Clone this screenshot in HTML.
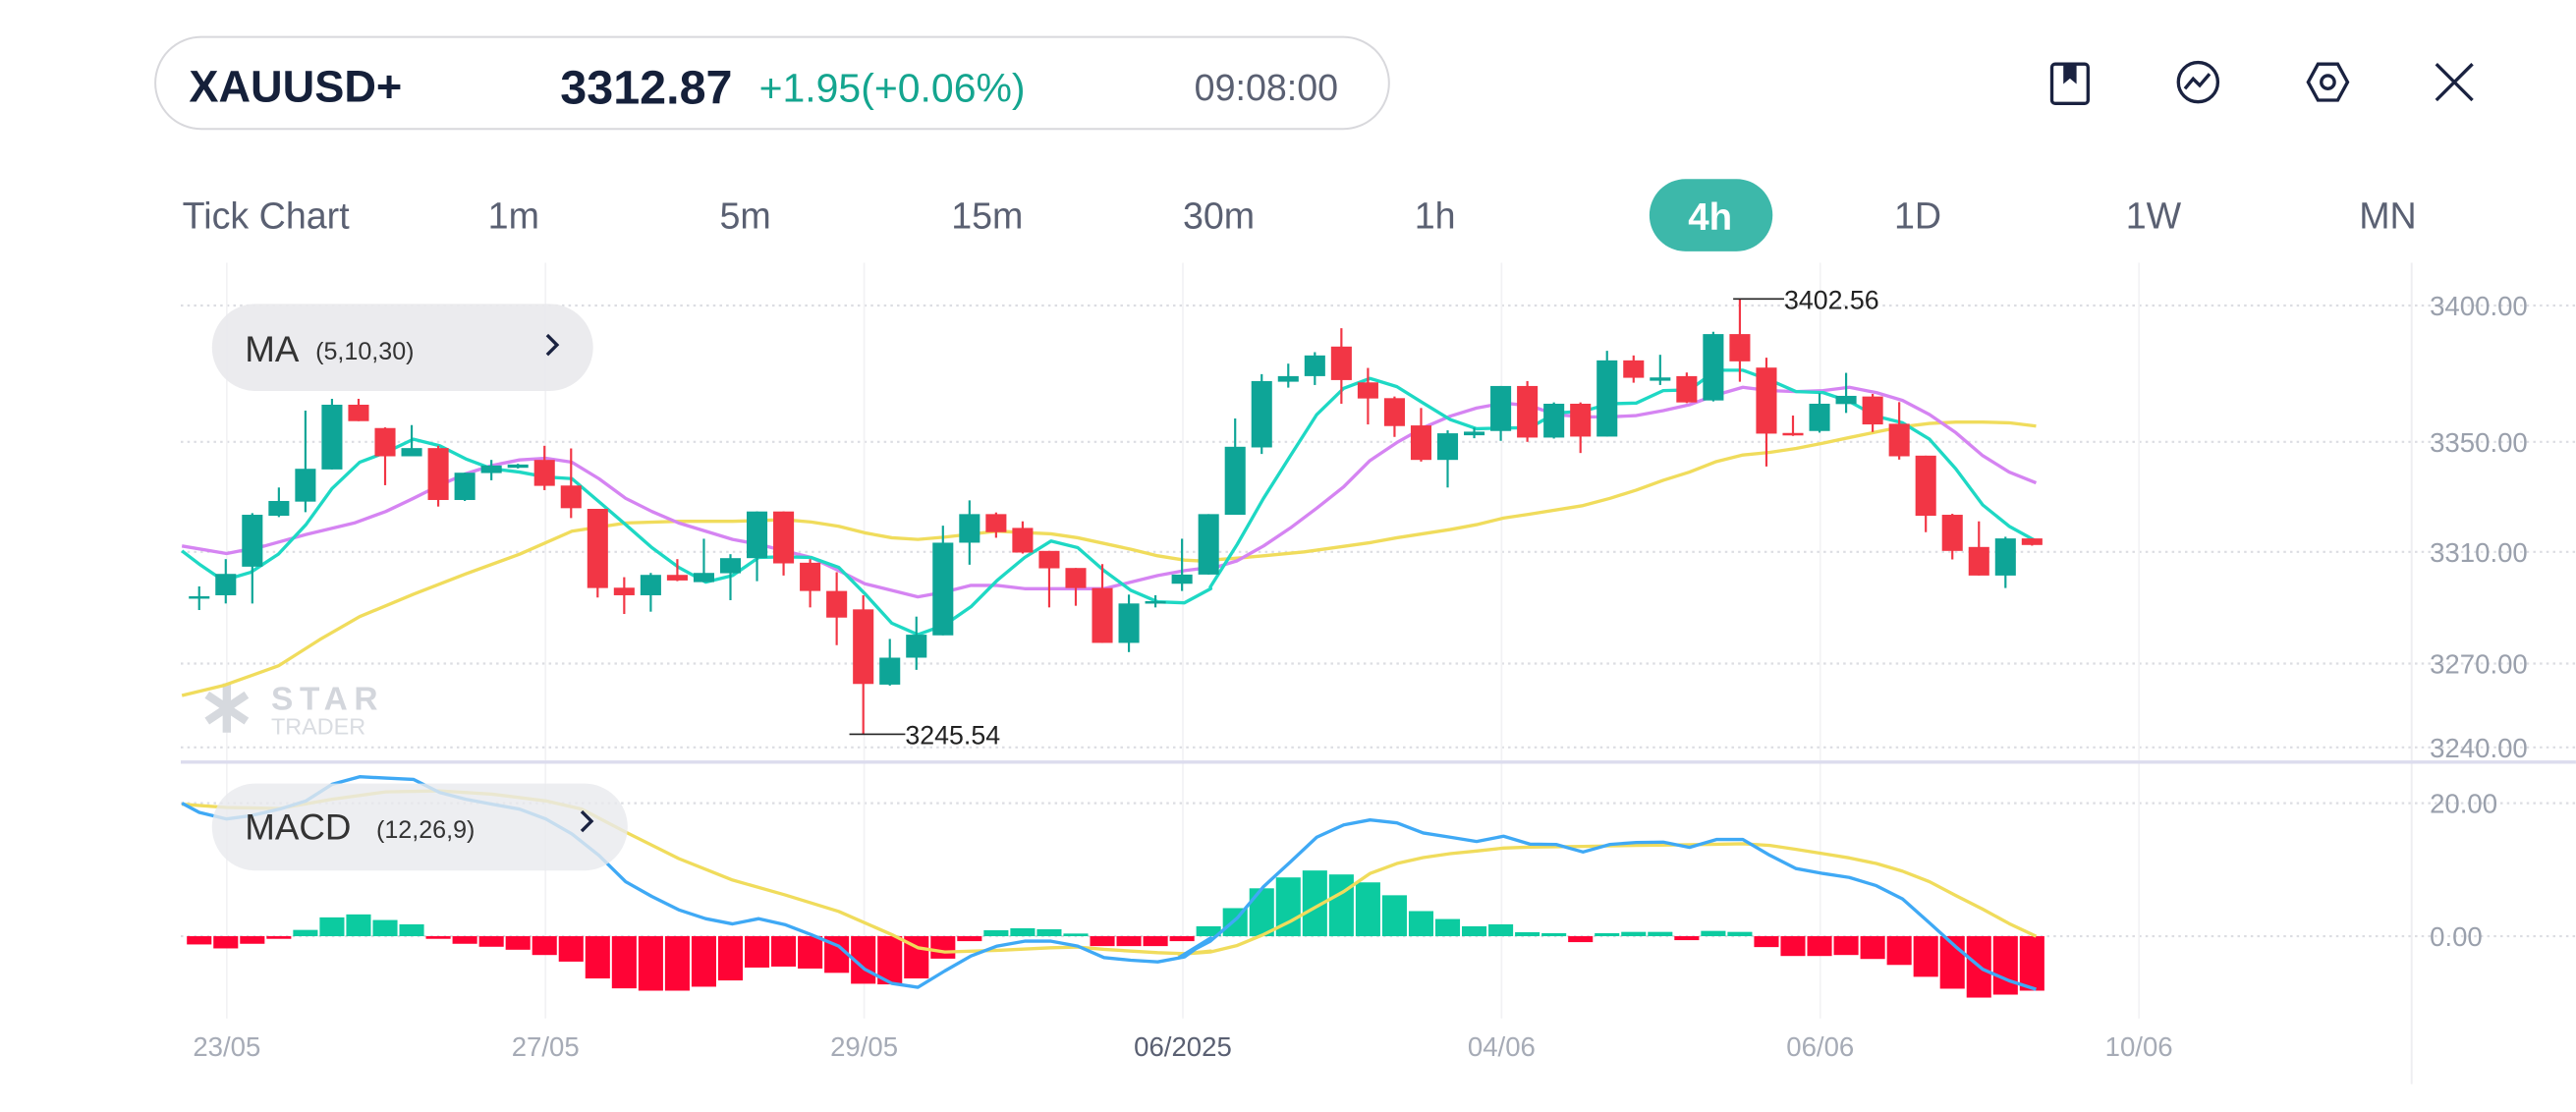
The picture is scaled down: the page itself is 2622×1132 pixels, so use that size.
<!DOCTYPE html>
<html><head><meta charset="utf-8"><style>
html,body{margin:0;padding:0;background:#fff;}
svg{display:block;font-family:"Liberation Sans",sans-serif;}
</style></head><body>
<svg id="s" width="2622" height="1132" viewBox="0 0 1568 677" xmlns="http://www.w3.org/2000/svg">
<rect width="1568" height="677" fill="#fff"/>
<rect x="94.5" y="22.5" width="751" height="56" rx="28" fill="#fff" stroke="#d8d8dc" stroke-width="1.2"/>
<text x="115" y="62" font-size="27" font-weight="bold" fill="#15203a">XAUUSD+</text>
<text x="341" y="63" font-size="29" font-weight="bold" fill="#15203a">3312.87</text>
<text x="462" y="62" font-size="24.5" fill="#14a58f">+1.95(+0.06%)</text>
<text x="727" y="61" font-size="22.5" fill="#5a6072">09:08:00</text>
<g fill="none" stroke="#1a2240" stroke-width="2">
<rect x="1249" y="39" width="22" height="24" rx="2"/><path d="M1257 39 v10 l3-2.5 l3 2.5 v-10" fill="#1a2240"/>
<circle cx="1338" cy="50" r="12"/><path d="M1330 54 l5-6 l4 4 l6-7"/>
<path d="M1411 39 h12 l6 11 l-6 11 h-12 l-6-11z"/><circle cx="1417" cy="50" r="4"/>
<path d="M1483 39 l22 22 M1505 39 l-22 22"/>
</g>
<g font-size="22.5" fill="#5a6072">
<text x="111" y="139">Tick Chart</text>
<text x="297" y="139">1m</text>
<text x="438" y="139">5m</text>
<text x="579" y="139">15m</text>
<text x="720" y="139">30m</text>
<text x="861" y="139">1h</text>
<text x="1153" y="139">1D</text>
<text x="1294" y="139">1W</text>
<text x="1436" y="139">MN</text>
</g>
<rect x="1004" y="109" width="75" height="44" rx="22" fill="#3db8aa"/>
<text x="1041" y="140" font-size="23" font-weight="bold" fill="#fff" text-anchor="middle">4h</text>
<g id="grid"></g>
<g id="plot"></g>
<g font-size="16.5" fill="#9aa0ac">
<text x="1479" y="192">3400.00</text>
<text x="1479" y="275">3350.00</text>
<text x="1479" y="342">3310.00</text>
<text x="1479" y="410">3270.00</text>
<text x="1479" y="461">3240.00</text>
<text x="1479" y="495">20.00</text>
<text x="1479" y="576">0.00</text>
</g>
<g font-size="16.5" fill="#a6abb6" text-anchor="middle">
<text x="138" y="643">23/05</text>
<text x="332" y="643">27/05</text>
<text x="526" y="643">29/05</text>
<text x="720" y="643" fill="#5a6072">06/2025</text>
<text x="914" y="643">04/06</text>
<text x="1108" y="643">06/06</text>
<text x="1302" y="643">10/06</text>
</g>
<g id="top"></g>
</svg>
<script>
const NS="http://www.w3.org/2000/svg";
function el(p,t,a){const e=document.createElementNS(NS,t);for(const k in a)e.setAttribute(k,a[k]);p.appendChild(e);return e;}
const G=document.getElementById('grid'),P=document.getElementById('plot'),T=document.getElementById('top');
[186,269,336,404,455,489,570].forEach(y=>el(G,'line',{x1:110,x2:1568,y1:y,y2:y,stroke:'#dcdde2','stroke-width':1.3,'stroke-dasharray':'1.5 2.5'}));
[138,332,526,720,914,1108,1302].forEach(x=>el(G,'line',{x1:x,x2:x,y1:160,y2:620,stroke:'#f2f2f4','stroke-width':1}));
el(G,'line',{x1:1468,x2:1468,y1:160,y2:660,stroke:'#eeeef1','stroke-width':1.2});
el(G,'line',{x1:110,x2:1568,y1:464,y2:464,stroke:'#dcdcee','stroke-width':2});
el(G,'text',{x:165,y:432,'font-size':20,'font-weight':'bold',fill:'#d3d6dc','letter-spacing':'4'}).textContent='STAR';
el(G,'text',{x:165,y:447,'font-size':14,fill:'#d9dce1'}).textContent='TRADER';
el(G,'path',{d:'M138 416 v30 M126 423 l24 16 M150 423 l-24 16',stroke:'#d6d9de','stroke-width':5,fill:'none'});
const X=i=>121.2+16.17*i, Y=v=>167.4+0.2*v;
const C=[[978,984,948,1020,1],[910,975,865,1000,1],[730,888,725,1000,1],[688,733,647,737,1],[590,690,413,722,1],[395,592,377,592,1],[395,445,377,445,0],[466,552,464,640,0],[527,552,457,552,1],[527,685,520,705,0],[602,685,602,688,1],[580,603,563,625,1],[577,587,575,589,1],[563,642,520,655,0],[641,710,528,740,0],[712,953,712,982,0],[952,975,920,1032,0],[913,975,907,1025,1],[913,930,865,932,0],[907,935,803,935,1],[862,908,850,990,1],[720,862,720,932,1],[720,878,720,915,0],[876,962,865,1012,0],[962,1043,905,1127,0],[1018,1245,975,1397,0],[1165,1247,1108,1250,1],[1095,1165,1040,1202,1],[815,1097,763,1097,1],[728,815,686,882,1],[728,783,723,800,0],[770,845,750,848,0],[840,893,840,1012,0],[892,953,892,1007,0],[953,1120,880,1120,0],[1000,1120,973,1148,1],[993,1000,975,1012,1],[912,940,803,962,1],[728,912,728,912,1],
[523,730,437,730,1],[323,525,302,545,1],[308,325,270,343,1],[245,308,235,335,1],[218,320,162,392,0],[327,376,283,455,0],[375,460,370,493,0],[458,563,405,568,0],[482,563,473,647,1],[477,488,465,497,1],[338,475,338,505,1],[338,495,323,508,0],[392,495,388,498,1],[392,492,388,542,0],[260,492,231,492,1],[260,313,245,328,0],[312,322,243,335,1],[308,388,297,390,0],[180,382,173,385,1],[180,263,72,325,0],[282,483,252,583,0],[481,488,428,490,0],[392,475,360,480,1],[368,393,298,420,1],[370,455,362,478,0],[453,552,387,562,0],[550,733,550,783,0],[730,840,727,866,0],[828,915,750,915,0],[802,915,797,953,1],[802,822,802,824,0]];
function z1(a){return a.map(p=>[89.7+0.4195*p[0],167.4+0.2*p[1]]);}
function z2(a){return a.map(p=>[717.6+0.3814*p[0],167.4+0.2*p[1]]);}
function z3(a){return a.map(p=>[89.7+0.4195*p[0],466.45+0.201*p[1]]);}
function z4(a){return a.map(p=>[717.6+0.3814*p[0],466.45+0.201*p[1]]);}
function line(pts,c,w){el(P,'polyline',{points:pts.map(p=>p[0].toFixed(1)+','+p[1].toFixed(1)).join(' '),fill:'none',stroke:c,'stroke-width':w,'stroke-linejoin':'round'});}
const ma30=z1([[50,1280],[110,1250],[190,1190],[250,1110],[308,1040],[386,972],[462,910],[540,850],[616,780],[694,755],[771,750],[849,750],[925,745],[963,752],[1003,765],[1041,785],[1080,800],[1118,805],[1157,798],[1233,780],[1311,788],[1350,800],[1427,835],[1466,855],[1505,868],[1543,872]]).concat(z2([[50,868],[93,862],[135,855],[200,843],[305,815],[348,800],[433,775],[475,760],[518,740],[560,728],[645,702],[688,680],[730,655],[773,625],[815,600],[858,568],[900,548],[943,540],[985,528],[1028,512],[1070,495],[1113,478],[1155,462],[1198,452],[1240,448],[1283,448],[1325,450],[1368,460]]));
const ma10=z1([[50,825],[115,848],[170,825],[230,790],[300,755],[346,720],[386,680],[424,640],[462,605],[500,580],[540,563],[578,558],[616,570],[655,620],[694,680],[732,720],[771,755],[810,780],[849,805],[887,820],[925,840],[963,860],[1003,900],[1041,940],[1080,960],[1118,980],[1157,965],[1195,945],[1233,945],[1273,955],[1388,955],[1427,935],[1466,915],[1505,900],[1543,890]]).concat(z2([[50,895],[93,870],[135,825],[178,770],[220,710],[263,645],[305,565],[348,510],[390,465],[433,430],[475,405],[518,390],[560,398],[602,425],[645,432],[688,432],[730,428],[773,413],[815,395],[858,365],[900,342],[943,352],[985,355],[1028,352],[1070,342],[1113,358],[1155,382],[1198,425],[1240,480],[1283,550],[1325,600],[1368,633]]));
const ma5=z1([[50,840],[75,880],[110,930],[150,905],[190,850],[230,760],[268,650],[308,570],[346,540],[386,500],[424,520],[462,560],[500,590],[540,600],[578,615],[616,620],[655,690],[694,760],[732,830],[771,890],[810,935],[849,915],[887,860],[925,858],[963,860],[1003,890],[1041,970],[1080,1060],[1118,1095],[1157,1065],[1195,1010],[1233,930],[1273,860],[1311,810],[1350,830],[1388,900],[1427,960],[1466,995],[1505,998],[1543,955]]).concat(z2([[50,950],[93,820],[135,680],[178,550],[220,425],[263,345],[305,315],[348,340],[390,390],[433,440],[475,468],[518,466],[560,465],[602,420],[645,415],[688,392],[730,390],[773,352],[815,350],[858,290],[900,290],[943,320],[985,355],[1028,358],[1070,385],[1113,430],[1155,450],[1198,500],[1240,590],[1283,700],[1325,765],[1368,810]]));
line(ma30,'#f0dc5c',2);line(ma10,'#d584f2',2);line(ma5,'#1ed8c4',2);
C.forEach((c,i)=>{const x=X(i),col=c[4]?'#0ea597':'#f23645';
el(P,'line',{x1:x,x2:x,y1:Y(c[2]),y2:Y(c[3]),stroke:col,'stroke-width':1.3});
const t=Y(c[0]),b=Y(c[1]);el(P,'rect',{x:x-6.3,y:t,width:12.6,height:Math.max(b-t,1.5),fill:col});});
const H=[540,552,538,523,496,458,449,466,479,523,538,547,556,572,592,643,673,680,680,668,649,610,607,613,626,659,661,643,583,530,497,491,494,507,545,545,545,530,485,430,370,337,316,328,352,391,439,463,485,479,503,506,533,506,502,502,527,499,502,548,575,575,572,584,602,638,674,701,692,680];
const z0=466.45+0.201*515;
H.forEach((h,i)=>{const y=466.45+0.201*h;const up=y<z0;el(P,'rect',{x:X(i)-7.5,y:Math.min(y,z0),width:15,height:Math.max(Math.abs(y-z0),1.5),fill:up?'#0ccba0':'#ff0335'});});
const dea=z3([[50,115],[115,125],[192,128],[268,100],[346,78],[424,75],[500,85],[578,105],[630,130],[694,200],[771,280],[849,345],[925,390],[1003,440],[1080,510],[1118,550],[1157,563],[1233,558],[1311,550],[1350,548],[1388,555],[1466,565],[1505,568],[1543,560]]).concat(z4([[0,570],[50,563],[93,543],[135,510],[178,470],[220,425],[263,380],[305,325],[348,295],[390,277],[433,265],[475,257],[518,248],[560,245],[645,243],[730,240],[815,238],[900,235],[943,240],[985,252],[1028,265],[1070,278],[1113,295],[1155,318],[1198,350],[1240,392],[1283,433],[1325,477],[1368,515]]));
const dif=z3([[50,112],[75,140],[115,160],[150,150],[192,130],[230,105],[268,55],[308,32],[346,36],[386,40],[424,80],[462,100],[500,115],[540,130],[578,160],[616,205],[655,270],[694,350],[732,395],[771,435],[810,462],[849,478],[887,462],[925,480],[963,510],[1003,545],[1041,615],[1080,658],[1118,670],[1157,620],[1195,575],[1233,545],[1273,530],[1311,530],[1350,545],[1388,580],[1427,588],[1466,593],[1505,578],[1543,520]]).concat(z4([[0,580],[50,530],[93,460],[135,365],[178,290],[220,215],[263,178],[305,163],[348,172],[390,202],[433,215],[475,228],[518,212],[560,236],[602,237],[645,260],[688,237],[730,231],[773,230],[815,246],[858,222],[900,222],[943,270],[985,310],[1028,325],[1070,337],[1113,362],[1155,402],[1198,475],[1240,547],[1283,615],[1325,650],[1368,676]]));
line(dea,'#f0dc5c',2);line(dif,'#3fa9f5',2);
el(T,'rect',{x:129,y:185,width:232,height:53,rx:26.5,fill:'#e9eaed','fill-opacity':0.93});
el(T,'text',{x:149,y:220,'font-size':22,fill:'#333'}).textContent='MA';
el(T,'text',{x:192,y:219,'font-size':15,fill:'#333'}).textContent='(5,10,30)';
el(T,'path',{d:'M333 204 l6 6 l-6 6',fill:'none',stroke:'#1a2240','stroke-width':2});
el(T,'rect',{x:129,y:477,width:253,height:53,rx:26.5,fill:'#e9eaed','fill-opacity':0.8});
el(T,'text',{x:149,y:511,'font-size':22,fill:'#333'}).textContent='MACD';
el(T,'text',{x:229,y:510,'font-size':15,fill:'#333'}).textContent='(12,26,9)';
el(T,'path',{d:'M354 494 l6 6 l-6 6',fill:'none',stroke:'#1a2240','stroke-width':2});
el(T,'line',{x1:1055,x2:1086,y1:182,y2:182,stroke:'#222','stroke-width':1});
el(T,'text',{x:1086,y:188,'font-size':16,fill:'#222'}).textContent='3402.56';
el(T,'line',{x1:517,x2:551,y1:447,y2:447,stroke:'#222','stroke-width':1});
el(T,'text',{x:551,y:453,'font-size':16,fill:'#222'}).textContent='3245.54';
</script>
</body></html>
